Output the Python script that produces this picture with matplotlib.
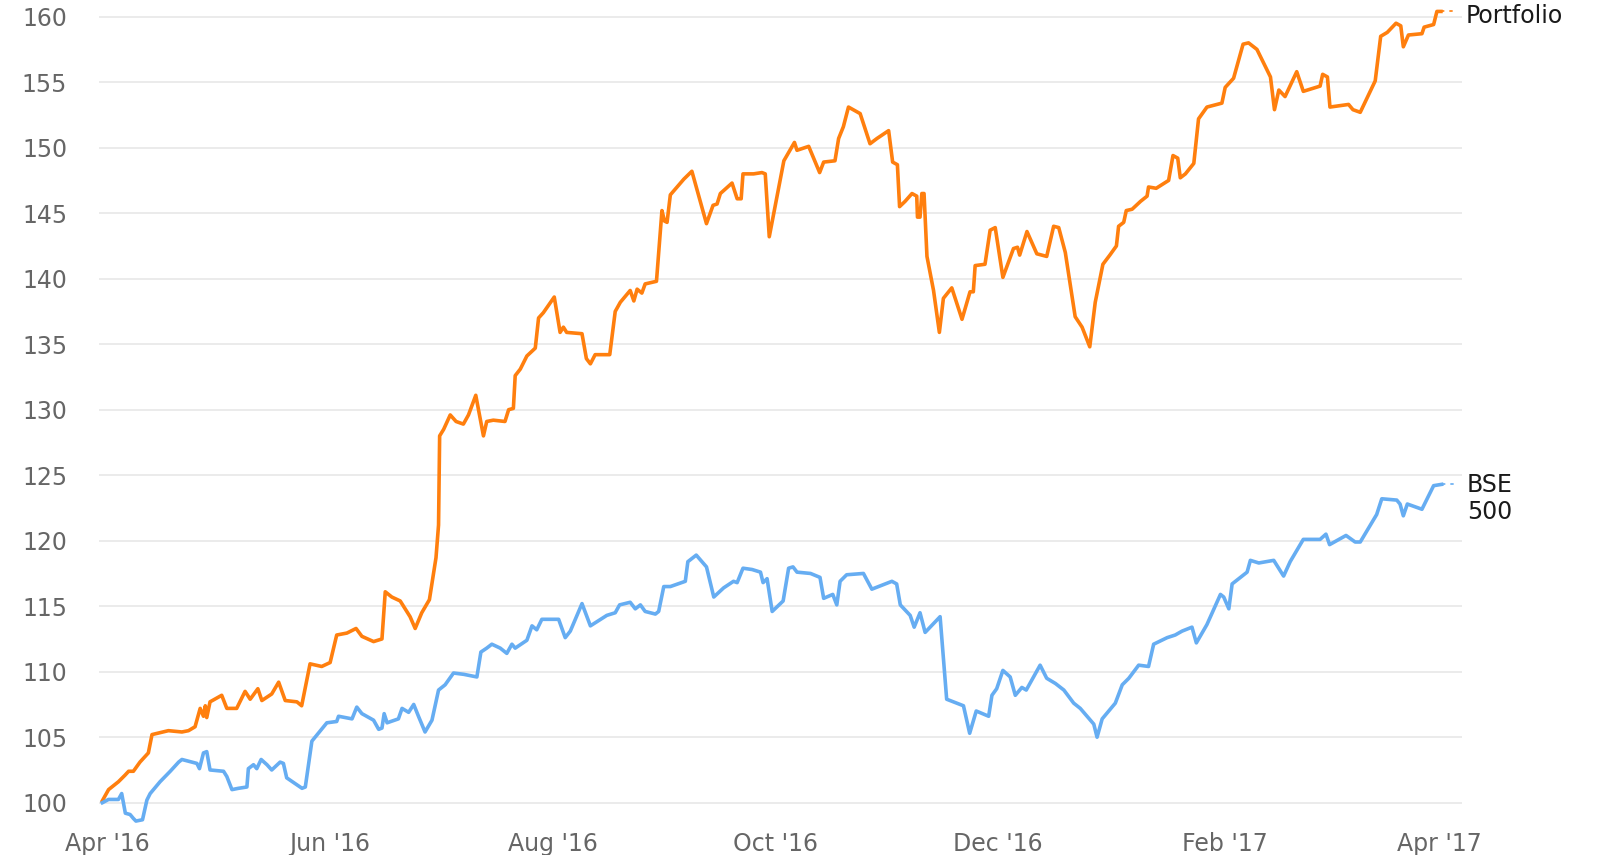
import numpy as np
import pandas as pd
import matplotlib
matplotlib.use('Agg')
import matplotlib.pyplot as plt
import matplotlib.dates as mdates

# day offsets are counted from 1 Apr 2016, values are indexed to 100
START = pd.Timestamp('2016-04-01')

port_days = [-1.4, 0.3, 3.0, 4.8, 5.8, 7.1, 8.9, 11.2, 12.2, 16.7, 20.4, 22.2, 24.0,
             25.4, 26.3, 26.8, 27.2, 28.1, 31.3, 32.7, 35.4, 37.7, 39.1, 41.2, 42.3,
             45.0, 46.9, 48.7, 51.9, 53.2, 55.5, 58.7, 61.0, 62.8, 65.6, 68.1, 69.7,
             72.9, 75.2, 76.1, 77.9, 80.2, 82.9, 84.3, 86.1, 88.2, 90.0, 90.7, 91.0,
             92.1, 93.9, 95.5, 97.5, 98.9, 100.9, 103.0, 103.9, 105.7, 108.9, 109.9,
             111.2, 111.7, 113.1, 114.9, 117.2, 118.1, 119.4, 122.4, 124.0, 124.9,
             125.8, 130.0, 131.2, 132.3, 133.6, 137.6, 139.1, 140.5, 143.2, 144.2,
             145.1, 146.4, 147.3, 150.4, 151.9, 152.6, 153.3, 154.2, 157.9, 160.1,
             164.1, 165.9, 167.0, 167.9, 171.1, 172.5, 173.6, 174.1, 177.0, 179.3,
             180.2, 181.3, 185.3, 188.2, 188.9, 192.1, 195.1, 196.2, 199.3, 200.3,
             201.6, 203.0, 206.2, 208.9, 210.8, 214.0, 215.1, 216.4, 217.0, 218.5,
             220.4, 221.7, 221.9, 222.6, 223.1, 223.7, 224.5, 226.3, 227.9, 229.0,
             231.3, 234.1, 236.3, 237.2, 237.7, 240.4, 241.8, 243.2, 245.3, 248.2,
             249.3, 249.9, 251.9, 254.6, 257.3, 259.2, 260.6, 262.4, 265.1, 267.0,
             269.1, 270.6, 272.7, 274.6, 276.4, 277.0, 278.4, 279.1, 280.7, 283.0,
             284.8, 285.2, 287.3, 290.7, 291.9, 293.2, 293.9, 295.3, 297.6, 298.9,
             301.2, 305.3, 306.2, 308.5, 311.1, 312.6, 314.9, 318.6, 319.7, 320.9,
             322.6, 325.8, 327.6, 332.2, 332.9, 334.2, 334.9, 340.0, 341.2, 343.2,
             347.3, 348.8, 350.6, 353.0, 354.3, 355.0, 356.4, 360.1, 360.7, 363.3,
             364.2, 365.3]
port_vals = [100.15, 101.0, 101.6, 102.1, 102.4, 102.4, 103.1, 103.8, 105.2, 105.5, 105.4,
             105.5, 105.8, 107.2, 106.6, 107.4, 106.5, 107.7, 108.2, 107.2, 107.2, 108.5,
             107.9, 108.7, 107.8, 108.3, 109.2, 107.8, 107.7, 107.4, 110.6, 110.4, 110.7,
             112.8, 112.95, 113.3, 112.7, 112.3, 112.5, 116.1, 115.7, 115.4, 114.2, 113.3,
             114.5, 115.5, 118.7, 121.2, 128.0, 128.5, 129.6, 129.1, 128.9, 129.6, 131.1,
             128.0, 129.1, 129.2, 129.1, 130.0, 130.1, 132.6, 133.1, 134.1, 134.7, 137.0,
             137.4, 138.6, 135.9, 136.3, 135.9, 135.8, 133.9, 133.5, 134.2, 134.2, 137.5,
             138.2, 139.1, 138.3, 139.2, 138.9, 139.6, 139.8, 145.2, 144.4, 144.3, 146.4,
             147.6, 148.2, 144.2, 145.6, 145.7, 146.5, 147.3, 146.1, 146.1, 148.0, 148.0,
             148.1, 148.0, 143.2, 149.0, 150.4, 149.8, 150.1, 148.1, 148.9, 149.0, 150.7,
             151.6, 153.1, 152.6, 150.3, 150.7, 151.3, 148.9, 148.7, 145.5, 145.9, 146.5,
             146.3, 144.7, 144.7, 146.5, 146.5, 141.7, 139.1, 135.9, 138.5, 139.3, 136.9,
             139.0, 139.0, 141.0, 141.1, 143.7, 143.9, 140.1, 142.3, 142.4, 141.8, 143.6,
             141.9, 141.7, 144.0, 143.9, 142.0, 137.1, 136.3, 134.8, 138.2, 141.1, 141.8,
             142.5, 144.0, 144.3, 145.2, 145.3, 145.9, 146.3, 147.0, 146.9, 147.5, 149.4,
             149.2, 147.7, 148.0, 148.8, 152.2, 153.1, 153.4, 154.6, 155.3, 157.9, 158.0,
             157.5, 155.4, 152.9, 154.4, 153.9, 155.8, 154.3, 154.7, 155.6, 155.4, 153.1,
             153.3, 152.9, 152.7, 155.1, 158.5, 158.8, 159.5, 159.3, 157.7, 158.6, 158.7,
             159.2, 159.4, 160.4, 160.4]

bse_days = [-1.4, 0.3, 3.0, 3.9, 4.9, 6.2, 7.1, 7.8, 9.6, 10.8, 11.7, 14.4, 17.2, 19.5,
            20.4, 24.5, 25.2, 26.3, 27.2, 28.1, 31.8, 32.7, 34.1, 35.9, 38.2, 38.6, 40.0,
            40.9, 42.1, 43.7, 45.0, 47.3, 48.2, 49.1, 53.3, 54.2, 56.0, 60.1, 62.8, 63.3,
            67.0, 68.3, 69.7, 72.9, 74.3, 75.2, 75.8, 76.6, 79.7, 80.7, 82.5, 83.9, 85.2,
            87.0, 88.9, 90.7, 92.5, 94.8, 97.6, 101.2, 102.3, 103.9, 105.3, 107.6, 109.4,
            110.8, 111.7, 114.9, 116.3, 117.6, 119.0, 123.6, 125.4, 126.8, 130.0, 132.3,
            136.8, 139.1, 140.3, 143.2, 144.6, 146.0, 147.3, 150.1, 151.0, 152.4, 154.2,
            158.3, 159.0, 161.3, 164.1, 166.1, 168.8, 171.5, 172.5, 174.1, 176.6, 178.9,
            179.6, 180.7, 182.1, 185.1, 186.6, 187.8, 188.9, 192.6, 195.2, 196.2, 198.7,
            199.8, 200.7, 202.5, 207.1, 209.4, 214.9, 216.2, 217.2, 219.9, 221.0, 222.6,
            224.0, 228.1, 229.9, 234.5, 236.2, 238.0, 241.4, 242.3, 243.6, 245.3, 247.3,
            248.7, 250.5, 251.7, 255.5, 257.3, 259.7, 262.0, 264.7, 266.5, 270.2, 271.1,
            272.5, 276.1, 278.0, 279.8, 282.5, 285.2, 286.6, 290.3, 292.5, 294.4, 297.1,
            298.3, 301.2, 304.9, 305.8, 307.2, 308.1, 312.2, 313.1, 315.4, 319.5, 322.2,
            324.0, 327.6, 332.2, 333.8, 334.8, 339.3, 341.8, 343.2, 347.7, 349.1, 353.2,
            354.1, 355.0, 356.1, 360.1, 363.3, 365.5]
bse_vals = [100.0, 100.25, 100.25, 100.7, 99.2, 99.1, 98.8, 98.6, 98.7, 100.2, 100.7, 101.6,
            102.4, 103.1, 103.3, 103.0, 102.6, 103.8, 103.9, 102.5, 102.4, 102.0, 101.0,
            101.1, 101.2, 102.6, 102.9, 102.6, 103.3, 102.9, 102.5, 103.1, 103.0, 101.9,
            101.1, 101.2, 104.7, 106.1, 106.2, 106.6, 106.4, 107.3, 106.8, 106.3, 105.6,
            105.7, 106.8, 106.1, 106.4, 107.2, 106.9, 107.5, 106.6, 105.4, 106.3, 108.6,
            109.0, 109.9, 109.8, 109.6, 111.5, 111.8, 112.1, 111.8, 111.4, 112.1, 111.8,
            112.4, 113.5, 113.2, 114.0, 114.0, 112.6, 113.1, 115.2, 113.5, 114.3, 114.5,
            115.1, 115.3, 114.8, 115.1, 114.6, 114.4, 114.6, 116.5, 116.5, 116.9, 118.4,
            118.9, 118.0, 115.7, 116.4, 116.9, 116.8, 117.9, 117.8, 117.6, 116.8, 117.1,
            114.6, 115.4, 117.9, 118.0, 117.6, 117.5, 117.2, 115.6, 115.9, 115.1, 116.9,
            117.4, 117.5, 116.3, 116.9, 116.7, 115.1, 114.3, 113.4, 114.5, 113.0, 114.2,
            107.9, 107.4, 105.3, 107.0, 106.6, 108.2, 108.7, 110.1, 109.6, 108.2, 108.8,
            108.6, 110.5, 109.5, 109.1, 108.6, 107.6, 107.2, 106.0, 105.0, 106.4, 107.6,
            109.0, 109.5, 110.5, 110.4, 112.1, 112.6, 112.8, 113.1, 113.4, 112.2, 113.6,
            115.9, 115.7, 114.8, 116.7, 117.6, 118.5, 118.3, 118.5, 117.3, 118.4, 120.1,
            120.1, 120.5, 119.7, 120.4, 119.9, 119.9, 122.0, 123.2, 123.1, 122.8, 121.9,
            122.8, 122.4, 124.2, 124.3]

series = [('Portfolio', port_days, port_vals, '#ff7f0e'),
          ('BSE\n500', bse_days, bse_vals, '#66adf2')]

y_ticks = np.arange(100, 161, 5)
x_ticks = pd.date_range('2016-04-01', '2017-04-01', freq='2MS')

fig = plt.figure(figsize=(16.03, 8.55), dpi=100)
ax = fig.add_axes([0.0618, 0.0351, 0.8503, 0.9546])

for label, days, vals, color in series:
    dates = START + pd.to_timedelta(days, unit='D')
    ax.plot(dates, vals, color=color, lw=2.6, solid_joinstyle='round',
            clip_on=False, zorder=3)
    # short dashed connector + end label, like the chart's data label
    end = dates[-1]
    ax.plot([end, end + pd.Timedelta(days=4)], [vals[-1], vals[-1]], color=color,
            lw=1.2, ls=(0, (2, 3)), clip_on=False)
    if '\n' in label:
        ax.annotate(label, xy=(end, vals[-1]), xytext=(18, 8), textcoords='offset points',
                    ha='left', va='top', fontsize=17, color='#1a1a1a', linespacing=1.15)
    else:
        ax.annotate(label, xy=(end, vals[-1]), xytext=(18, -3), textcoords='offset points',
                    ha='left', va='center', fontsize=17, color='#1a1a1a')

ax.set_xlim(START - pd.Timedelta(days=2.3), START + pd.Timedelta(days=371.1))
ax.set_ylim(98.3, 160.6)
ax.set_yticks(y_ticks)
ax.set_xticks(x_ticks)
ax.xaxis.set_major_formatter(mdates.DateFormatter("%b '%y"))

ax.grid(axis='y', color='#e6e6e6', lw=1.1)
ax.grid(axis='x', visible=False)
ax.set_axisbelow(True)
for side in ax.spines.values():
    side.set_visible(False)
ax.tick_params(axis='both', length=0, labelsize=17, labelcolor='#666666')
ax.tick_params(axis='y', pad=23)
ax.tick_params(axis='x', pad=5)

plt.savefig('out.png', dpi=100)
plt.close()
